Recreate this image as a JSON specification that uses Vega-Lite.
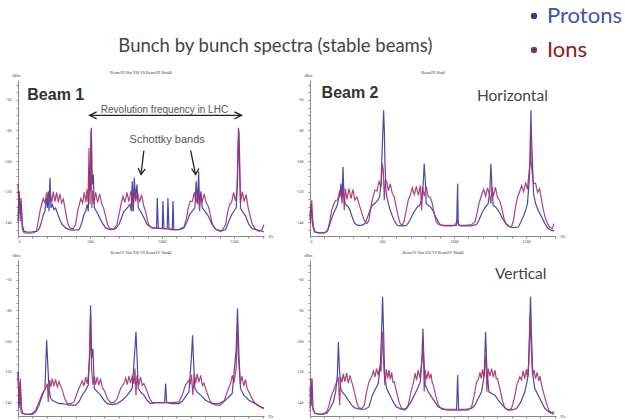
{
"$schema": "https://vega.github.io/schema/vega-lite/v6.json",
"padding": {"left": 2, "top": 5, "right": 0, "bottom": 0},
"bounds": "flush",
"title": {"text": "Bunch by bunch spectra (stable beams)", "anchor": "middle", "dx": -37, "font": "Lato", "fontSize": 18.5, "fontWeight": "normal", "color": "#444", "offset": -50},
"data": {"values": [
{"p":"1H","s":"Protons","f":0,"d":-139.3},{"p":"1H","s":"Protons","f":7,"d":-119.7},{"p":"1H","s":"Protons","f":14,"d":-135.0},{"p":"1H","s":"Protons","f":21,"d":-124.1},{"p":"1H","s":"Protons","f":30,"d":-141.5},{"p":"1H","s":"Protons","f":42,"d":-145.9},{"p":"1H","s":"Protons","f":65,"d":-146.5},{"p":"1H","s":"Protons","f":99,"d":-146.3},{"p":"1H","s":"Protons","f":134,"d":-145.9},{"p":"1H","s":"Protons","f":150,"d":-143.7},{"p":"1H","s":"Protons","f":164,"d":-139.3},{"p":"1H","s":"Protons","f":176,"d":-135.0},{"p":"1H","s":"Protons","f":187,"d":-132.8},{"p":"1H","s":"Protons","f":197,"d":-124.1},{"p":"1H","s":"Protons","f":204,"d":-130.6},{"p":"1H","s":"Protons","f":210,"d":-119.7},{"p":"1H","s":"Protons","f":215,"d":-132.8},{"p":"1H","s":"Protons","f":222,"d":-111.0},{"p":"1H","s":"Protons","f":229,"d":-130.6},{"p":"1H","s":"Protons","f":238,"d":-128.4},{"p":"1H","s":"Protons","f":250,"d":-131.7},{"p":"1H","s":"Protons","f":261,"d":-130.6},{"p":"1H","s":"Protons","f":273,"d":-133.9},{"p":"1H","s":"Protons","f":285,"d":-137.1},{"p":"1H","s":"Protons","f":296,"d":-139.3},{"p":"1H","s":"Protons","f":308,"d":-141.5},{"p":"1H","s":"Protons","f":331,"d":-143.7},{"p":"1H","s":"Protons","f":354,"d":-144.8},{"p":"1H","s":"Protons","f":389,"d":-145.2},{"p":"1H","s":"Protons","f":423,"d":-144.8},{"p":"1H","s":"Protons","f":435,"d":-142.6},{"p":"1H","s":"Protons","f":446,"d":-139.3},{"p":"1H","s":"Protons","f":458,"d":-135.0},{"p":"1H","s":"Protons","f":470,"d":-132.8},{"p":"1H","s":"Protons","f":481,"d":-128.4},{"p":"1H","s":"Protons","f":488,"d":-132.8},{"p":"1H","s":"Protons","f":495,"d":-104.4},{"p":"1H","s":"Protons","f":502,"d":-119.7},{"p":"1H","s":"Protons","f":509,"d":-78.3},{"p":"1H","s":"Protons","f":516,"d":-115.3},{"p":"1H","s":"Protons","f":523,"d":-108.8},{"p":"1H","s":"Protons","f":530,"d":-130.6},{"p":"1H","s":"Protons","f":544,"d":-132.8},{"p":"1H","s":"Protons","f":562,"d":-136.0},{"p":"1H","s":"Protons","f":585,"d":-140.4},{"p":"1H","s":"Protons","f":608,"d":-143.7},{"p":"1H","s":"Protons","f":643,"d":-144.8},{"p":"1H","s":"Protons","f":678,"d":-144.3},{"p":"1H","s":"Protons","f":701,"d":-141.5},{"p":"1H","s":"Protons","f":719,"d":-137.1},{"p":"1H","s":"Protons","f":736,"d":-132.8},{"p":"1H","s":"Protons","f":759,"d":-130.6},{"p":"1H","s":"Protons","f":777,"d":-128.4},{"p":"1H","s":"Protons","f":786,"d":-132.8},{"p":"1H","s":"Protons","f":793,"d":-113.2},{"p":"1H","s":"Protons","f":800,"d":-132.8},{"p":"1H","s":"Protons","f":807,"d":-111.0},{"p":"1H","s":"Protons","f":817,"d":-124.1},{"p":"1H","s":"Protons","f":826,"d":-115.3},{"p":"1H","s":"Protons","f":835,"d":-130.6},{"p":"1H","s":"Protons","f":851,"d":-132.8},{"p":"1H","s":"Protons","f":874,"d":-137.1},{"p":"1H","s":"Protons","f":897,"d":-141.5},{"p":"1H","s":"Protons","f":932,"d":-143.7},{"p":"1H","s":"Protons","f":962,"d":-143.7},{"p":"1H","s":"Protons","f":967,"d":-124.1},{"p":"1H","s":"Protons","f":974,"d":-143.7},{"p":"1H","s":"Protons","f":1002,"d":-144.1},{"p":"1H","s":"Protons","f":1006,"d":-126.2},{"p":"1H","s":"Protons","f":1013,"d":-144.1},{"p":"1H","s":"Protons","f":1036,"d":-144.1},{"p":"1H","s":"Protons","f":1041,"d":-124.1},{"p":"1H","s":"Protons","f":1048,"d":-144.1},{"p":"1H","s":"Protons","f":1071,"d":-144.8},{"p":"1H","s":"Protons","f":1076,"d":-126.2},{"p":"1H","s":"Protons","f":1082,"d":-144.8},{"p":"1H","s":"Protons","f":1117,"d":-144.8},{"p":"1H","s":"Protons","f":1152,"d":-143.7},{"p":"1H","s":"Protons","f":1175,"d":-139.3},{"p":"1H","s":"Protons","f":1191,"d":-135.0},{"p":"1H","s":"Protons","f":1210,"d":-132.8},{"p":"1H","s":"Protons","f":1228,"d":-130.6},{"p":"1H","s":"Protons","f":1237,"d":-113.2},{"p":"1H","s":"Protons","f":1247,"d":-128.4},{"p":"1H","s":"Protons","f":1254,"d":-106.6},{"p":"1H","s":"Protons","f":1261,"d":-128.4},{"p":"1H","s":"Protons","f":1270,"d":-119.7},{"p":"1H","s":"Protons","f":1279,"d":-130.6},{"p":"1H","s":"Protons","f":1298,"d":-132.8},{"p":"1H","s":"Protons","f":1321,"d":-136.0},{"p":"1H","s":"Protons","f":1348,"d":-141.5},{"p":"1H","s":"Protons","f":1376,"d":-144.8},{"p":"1H","s":"Protons","f":1406,"d":-145.9},{"p":"1H","s":"Protons","f":1441,"d":-144.8},{"p":"1H","s":"Protons","f":1464,"d":-139.3},{"p":"1H","s":"Protons","f":1483,"d":-135.0},{"p":"1H","s":"Protons","f":1499,"d":-132.8},{"p":"1H","s":"Protons","f":1515,"d":-130.6},{"p":"1H","s":"Protons","f":1524,"d":-113.2},{"p":"1H","s":"Protons","f":1531,"d":-78.3},{"p":"1H","s":"Protons","f":1538,"d":-102.3},{"p":"1H","s":"Protons","f":1545,"d":-130.6},{"p":"1H","s":"Protons","f":1557,"d":-132.8},{"p":"1H","s":"Protons","f":1580,"d":-136.0},{"p":"1H","s":"Protons","f":1603,"d":-141.5},{"p":"1H","s":"Protons","f":1626,"d":-144.1},{"p":"1H","s":"Protons","f":1661,"d":-145.2},{"p":"1H","s":"Protons","f":1695,"d":-145.9},{"p":"1H","s":"Protons","f":1707,"d":-146.3},
{"p":"1H","s":"Ions","f":0,"d":-115.3},{"p":"1H","s":"Ions","f":5,"d":-128.4},{"p":"1H","s":"Ions","f":9,"d":-119.7},{"p":"1H","s":"Ions","f":16,"d":-139.3},{"p":"1H","s":"Ions","f":23,"d":-130.6},{"p":"1H","s":"Ions","f":30,"d":-144.8},{"p":"1H","s":"Ions","f":42,"d":-146.9},{"p":"1H","s":"Ions","f":76,"d":-147.2},{"p":"1H","s":"Ions","f":111,"d":-146.9},{"p":"1H","s":"Ions","f":127,"d":-145.9},{"p":"1H","s":"Ions","f":141,"d":-139.3},{"p":"1H","s":"Ions","f":153,"d":-132.8},{"p":"1H","s":"Ions","f":164,"d":-128.4},{"p":"1H","s":"Ions","f":176,"d":-124.5},{"p":"1H","s":"Ions","f":187,"d":-127.5},{"p":"1H","s":"Ions","f":199,"d":-120.5},{"p":"1H","s":"Ions","f":210,"d":-126.5},{"p":"1H","s":"Ions","f":222,"d":-119.5},{"p":"1H","s":"Ions","f":234,"d":-127.0},{"p":"1H","s":"Ions","f":245,"d":-120.0},{"p":"1H","s":"Ions","f":257,"d":-126.5},{"p":"1H","s":"Ions","f":268,"d":-120.5},{"p":"1H","s":"Ions","f":280,"d":-127.0},{"p":"1H","s":"Ions","f":291,"d":-121.5},{"p":"1H","s":"Ions","f":303,"d":-127.5},{"p":"1H","s":"Ions","f":315,"d":-125.0},{"p":"1H","s":"Ions","f":326,"d":-130.6},{"p":"1H","s":"Ions","f":338,"d":-137.1},{"p":"1H","s":"Ions","f":349,"d":-141.5},{"p":"1H","s":"Ions","f":361,"d":-143.7},{"p":"1H","s":"Ions","f":382,"d":-144.3},{"p":"1H","s":"Ions","f":400,"d":-141.5},{"p":"1H","s":"Ions","f":414,"d":-132.8},{"p":"1H","s":"Ions","f":426,"d":-128.4},{"p":"1H","s":"Ions","f":437,"d":-124.5},{"p":"1H","s":"Ions","f":449,"d":-127.5},{"p":"1H","s":"Ions","f":460,"d":-120.5},{"p":"1H","s":"Ions","f":472,"d":-127.0},{"p":"1H","s":"Ions","f":479,"d":-118.5},{"p":"1H","s":"Ions","f":486,"d":-126.5},{"p":"1H","s":"Ions","f":493,"d":-91.4},{"p":"1H","s":"Ions","f":500,"d":-128.4},{"p":"1H","s":"Ions","f":507,"d":-80.5},{"p":"1H","s":"Ions","f":513,"d":-130.6},{"p":"1H","s":"Ions","f":520,"d":-119.5},{"p":"1H","s":"Ions","f":527,"d":-128.0},{"p":"1H","s":"Ions","f":539,"d":-120.5},{"p":"1H","s":"Ions","f":553,"d":-127.0},{"p":"1H","s":"Ions","f":567,"d":-121.5},{"p":"1H","s":"Ions","f":581,"d":-128.0},{"p":"1H","s":"Ions","f":594,"d":-130.6},{"p":"1H","s":"Ions","f":608,"d":-136.0},{"p":"1H","s":"Ions","f":622,"d":-141.5},{"p":"1H","s":"Ions","f":638,"d":-144.1},{"p":"1H","s":"Ions","f":666,"d":-144.5},{"p":"1H","s":"Ions","f":687,"d":-141.5},{"p":"1H","s":"Ions","f":701,"d":-135.0},{"p":"1H","s":"Ions","f":715,"d":-128.4},{"p":"1H","s":"Ions","f":729,"d":-123.0},{"p":"1H","s":"Ions","f":742,"d":-127.0},{"p":"1H","s":"Ions","f":756,"d":-120.5},{"p":"1H","s":"Ions","f":770,"d":-126.5},{"p":"1H","s":"Ions","f":784,"d":-119.5},{"p":"1H","s":"Ions","f":793,"d":-125.0},{"p":"1H","s":"Ions","f":800,"d":-132.8},{"p":"1H","s":"Ions","f":807,"d":-118.0},{"p":"1H","s":"Ions","f":817,"d":-126.5},{"p":"1H","s":"Ions","f":830,"d":-120.5},{"p":"1H","s":"Ions","f":844,"d":-127.0},{"p":"1H","s":"Ions","f":858,"d":-122.0},{"p":"1H","s":"Ions","f":872,"d":-129.0},{"p":"1H","s":"Ions","f":886,"d":-132.8},{"p":"1H","s":"Ions","f":900,"d":-139.3},{"p":"1H","s":"Ions","f":914,"d":-142.6},{"p":"1H","s":"Ions","f":932,"d":-143.7},{"p":"1H","s":"Ions","f":978,"d":-144.1},{"p":"1H","s":"Ions","f":1025,"d":-144.3},{"p":"1H","s":"Ions","f":1071,"d":-144.8},{"p":"1H","s":"Ions","f":1117,"d":-144.8},{"p":"1H","s":"Ions","f":1152,"d":-143.2},{"p":"1H","s":"Ions","f":1168,"d":-138.2},{"p":"1H","s":"Ions","f":1182,"d":-130.6},{"p":"1H","s":"Ions","f":1196,"d":-126.2},{"p":"1H","s":"Ions","f":1210,"d":-126.5},{"p":"1H","s":"Ions","f":1224,"d":-120.5},{"p":"1H","s":"Ions","f":1237,"d":-127.0},{"p":"1H","s":"Ions","f":1251,"d":-119.5},{"p":"1H","s":"Ions","f":1261,"d":-132.8},{"p":"1H","s":"Ions","f":1268,"d":-121.0},{"p":"1H","s":"Ions","f":1279,"d":-127.0},{"p":"1H","s":"Ions","f":1293,"d":-121.5},{"p":"1H","s":"Ions","f":1307,"d":-127.5},{"p":"1H","s":"Ions","f":1321,"d":-129.5},{"p":"1H","s":"Ions","f":1335,"d":-135.0},{"p":"1H","s":"Ions","f":1348,"d":-140.4},{"p":"1H","s":"Ions","f":1362,"d":-143.7},{"p":"1H","s":"Ions","f":1383,"d":-145.2},{"p":"1H","s":"Ions","f":1418,"d":-145.4},{"p":"1H","s":"Ions","f":1441,"d":-141.5},{"p":"1H","s":"Ions","f":1455,"d":-133.9},{"p":"1H","s":"Ions","f":1469,"d":-128.4},{"p":"1H","s":"Ions","f":1483,"d":-127.0},{"p":"1H","s":"Ions","f":1497,"d":-120.5},{"p":"1H","s":"Ions","f":1510,"d":-126.0},{"p":"1H","s":"Ions","f":1520,"d":-119.5},{"p":"1H","s":"Ions","f":1529,"d":-87.0},{"p":"1H","s":"Ions","f":1534,"d":-80.5},{"p":"1H","s":"Ions","f":1538,"d":-93.6},{"p":"1H","s":"Ions","f":1545,"d":-127.5},{"p":"1H","s":"Ions","f":1557,"d":-120.0},{"p":"1H","s":"Ions","f":1571,"d":-126.5},{"p":"1H","s":"Ions","f":1584,"d":-122.0},{"p":"1H","s":"Ions","f":1598,"d":-130.6},{"p":"1H","s":"Ions","f":1612,"d":-136.0},{"p":"1H","s":"Ions","f":1626,"d":-141.1},{"p":"1H","s":"Ions","f":1645,"d":-144.1},{"p":"1H","s":"Ions","f":1672,"d":-145.9},{"p":"1H","s":"Ions","f":1695,"d":-144.8},{"p":"1H","s":"Ions","f":1707,"d":-141.5},
{"p":"2H","s":"Protons","f":0,"d":-138.7},{"p":"2H","s":"Protons","f":7,"d":-127.8},{"p":"2H","s":"Protons","f":14,"d":-136.5},{"p":"2H","s":"Protons","f":21,"d":-143.1},{"p":"2H","s":"Protons","f":30,"d":-146.3},{"p":"2H","s":"Protons","f":58,"d":-147.0},{"p":"2H","s":"Protons","f":93,"d":-147.0},{"p":"2H","s":"Protons","f":116,"d":-146.3},{"p":"2H","s":"Protons","f":127,"d":-144.2},{"p":"2H","s":"Protons","f":139,"d":-140.9},{"p":"2H","s":"Protons","f":150,"d":-137.6},{"p":"2H","s":"Protons","f":162,"d":-134.4},{"p":"2H","s":"Protons","f":173,"d":-132.2},{"p":"2H","s":"Protons","f":185,"d":-130.0},{"p":"2H","s":"Protons","f":197,"d":-125.6},{"p":"2H","s":"Protons","f":208,"d":-121.3},{"p":"2H","s":"Protons","f":215,"d":-114.7},{"p":"2H","s":"Protons","f":222,"d":-127.8},{"p":"2H","s":"Protons","f":229,"d":-103.8},{"p":"2H","s":"Protons","f":236,"d":-123.5},{"p":"2H","s":"Protons","f":243,"d":-127.8},{"p":"2H","s":"Protons","f":254,"d":-128.9},{"p":"2H","s":"Protons","f":266,"d":-130.0},{"p":"2H","s":"Protons","f":278,"d":-132.2},{"p":"2H","s":"Protons","f":289,"d":-135.4},{"p":"2H","s":"Protons","f":301,"d":-138.7},{"p":"2H","s":"Protons","f":312,"d":-140.9},{"p":"2H","s":"Protons","f":331,"d":-142.0},{"p":"2H","s":"Protons","f":359,"d":-142.0},{"p":"2H","s":"Protons","f":382,"d":-140.9},{"p":"2H","s":"Protons","f":400,"d":-136.5},{"p":"2H","s":"Protons","f":416,"d":-132.2},{"p":"2H","s":"Protons","f":433,"d":-128.9},{"p":"2H","s":"Protons","f":451,"d":-127.8},{"p":"2H","s":"Protons","f":470,"d":-125.6},{"p":"2H","s":"Protons","f":483,"d":-123.5},{"p":"2H","s":"Protons","f":493,"d":-114.7},{"p":"2H","s":"Protons","f":500,"d":-95.1},{"p":"2H","s":"Protons","f":507,"d":-77.7},{"p":"2H","s":"Protons","f":511,"d":-66.8},{"p":"2H","s":"Protons","f":516,"d":-79.9},{"p":"2H","s":"Protons","f":520,"d":-99.5},{"p":"2H","s":"Protons","f":527,"d":-119.1},{"p":"2H","s":"Protons","f":534,"d":-123.5},{"p":"2H","s":"Protons","f":544,"d":-127.8},{"p":"2H","s":"Protons","f":557,"d":-132.2},{"p":"2H","s":"Protons","f":574,"d":-136.5},{"p":"2H","s":"Protons","f":590,"d":-139.8},{"p":"2H","s":"Protons","f":606,"d":-142.0},{"p":"2H","s":"Protons","f":625,"d":-142.4},{"p":"2H","s":"Protons","f":648,"d":-142.4},{"p":"2H","s":"Protons","f":671,"d":-142.0},{"p":"2H","s":"Protons","f":694,"d":-138.7},{"p":"2H","s":"Protons","f":710,"d":-135.4},{"p":"2H","s":"Protons","f":729,"d":-132.2},{"p":"2H","s":"Protons","f":745,"d":-130.0},{"p":"2H","s":"Protons","f":761,"d":-128.9},{"p":"2H","s":"Protons","f":775,"d":-125.6},{"p":"2H","s":"Protons","f":786,"d":-114.7},{"p":"2H","s":"Protons","f":793,"d":-101.7},{"p":"2H","s":"Protons","f":800,"d":-112.6},{"p":"2H","s":"Protons","f":807,"d":-127.8},{"p":"2H","s":"Protons","f":821,"d":-128.9},{"p":"2H","s":"Protons","f":837,"d":-130.0},{"p":"2H","s":"Protons","f":853,"d":-132.2},{"p":"2H","s":"Protons","f":872,"d":-136.5},{"p":"2H","s":"Protons","f":891,"d":-139.8},{"p":"2H","s":"Protons","f":909,"d":-142.0},{"p":"2H","s":"Protons","f":937,"d":-142.4},{"p":"2H","s":"Protons","f":983,"d":-142.4},{"p":"2H","s":"Protons","f":1018,"d":-142.0},{"p":"2H","s":"Protons","f":1025,"d":-114.7},{"p":"2H","s":"Protons","f":1029,"d":-140.9},{"p":"2H","s":"Protons","f":1041,"d":-142.4},{"p":"2H","s":"Protons","f":1076,"d":-142.4},{"p":"2H","s":"Protons","f":1122,"d":-142.4},{"p":"2H","s":"Protons","f":1157,"d":-141.3},{"p":"2H","s":"Protons","f":1173,"d":-138.7},{"p":"2H","s":"Protons","f":1187,"d":-135.4},{"p":"2H","s":"Protons","f":1203,"d":-132.2},{"p":"2H","s":"Protons","f":1219,"d":-130.0},{"p":"2H","s":"Protons","f":1237,"d":-127.8},{"p":"2H","s":"Protons","f":1249,"d":-119.1},{"p":"2H","s":"Protons","f":1256,"d":-101.7},{"p":"2H","s":"Protons","f":1263,"d":-116.9},{"p":"2H","s":"Protons","f":1272,"d":-128.9},{"p":"2H","s":"Protons","f":1288,"d":-130.0},{"p":"2H","s":"Protons","f":1307,"d":-132.2},{"p":"2H","s":"Protons","f":1325,"d":-135.4},{"p":"2H","s":"Protons","f":1344,"d":-138.7},{"p":"2H","s":"Protons","f":1362,"d":-140.9},{"p":"2H","s":"Protons","f":1388,"d":-143.1},{"p":"2H","s":"Protons","f":1418,"d":-143.5},{"p":"2H","s":"Protons","f":1446,"d":-143.1},{"p":"2H","s":"Protons","f":1464,"d":-139.8},{"p":"2H","s":"Protons","f":1480,"d":-136.5},{"p":"2H","s":"Protons","f":1497,"d":-132.2},{"p":"2H","s":"Protons","f":1510,"d":-127.8},{"p":"2H","s":"Protons","f":1522,"d":-112.6},{"p":"2H","s":"Protons","f":1529,"d":-97.3},{"p":"2H","s":"Protons","f":1534,"d":-66.8},{"p":"2H","s":"Protons","f":1538,"d":-84.2},{"p":"2H","s":"Protons","f":1545,"d":-101.7},{"p":"2H","s":"Protons","f":1552,"d":-121.3},{"p":"2H","s":"Protons","f":1566,"d":-127.8},{"p":"2H","s":"Protons","f":1584,"d":-132.2},{"p":"2H","s":"Protons","f":1608,"d":-136.5},{"p":"2H","s":"Protons","f":1631,"d":-140.9},{"p":"2H","s":"Protons","f":1654,"d":-144.2},{"p":"2H","s":"Protons","f":1677,"d":-145.3},{"p":"2H","s":"Protons","f":1695,"d":-145.7},
{"p":"2H","s":"Ions","f":0,"d":-132.2},{"p":"2H","s":"Ions","f":5,"d":-140.9},{"p":"2H","s":"Ions","f":12,"d":-125.6},{"p":"2H","s":"Ions","f":19,"d":-138.7},{"p":"2H","s":"Ions","f":25,"d":-143.1},{"p":"2H","s":"Ions","f":35,"d":-146.3},{"p":"2H","s":"Ions","f":58,"d":-147.0},{"p":"2H","s":"Ions","f":104,"d":-146.8},{"p":"2H","s":"Ions","f":123,"d":-145.3},{"p":"2H","s":"Ions","f":139,"d":-138.7},{"p":"2H","s":"Ions","f":150,"d":-132.2},{"p":"2H","s":"Ions","f":162,"d":-128.9},{"p":"2H","s":"Ions","f":178,"d":-125.6},{"p":"2H","s":"Ions","f":192,"d":-125.5},{"p":"2H","s":"Ions","f":206,"d":-119.5},{"p":"2H","s":"Ions","f":220,"d":-124.5},{"p":"2H","s":"Ions","f":231,"d":-117.5},{"p":"2H","s":"Ions","f":238,"d":-132.2},{"p":"2H","s":"Ions","f":245,"d":-118.0},{"p":"2H","s":"Ions","f":257,"d":-125.0},{"p":"2H","s":"Ions","f":271,"d":-118.0},{"p":"2H","s":"Ions","f":285,"d":-124.5},{"p":"2H","s":"Ions","f":298,"d":-118.5},{"p":"2H","s":"Ions","f":312,"d":-125.5},{"p":"2H","s":"Ions","f":326,"d":-123.5},{"p":"2H","s":"Ions","f":340,"d":-127.8},{"p":"2H","s":"Ions","f":354,"d":-132.2},{"p":"2H","s":"Ions","f":368,"d":-136.5},{"p":"2H","s":"Ions","f":382,"d":-139.8},{"p":"2H","s":"Ions","f":396,"d":-140.9},{"p":"2H","s":"Ions","f":409,"d":-138.7},{"p":"2H","s":"Ions","f":423,"d":-130.0},{"p":"2H","s":"Ions","f":437,"d":-123.5},{"p":"2H","s":"Ions","f":451,"d":-119.1},{"p":"2H","s":"Ions","f":465,"d":-119.5},{"p":"2H","s":"Ions","f":479,"d":-113.5},{"p":"2H","s":"Ions","f":493,"d":-117.0},{"p":"2H","s":"Ions","f":502,"d":-101.7},{"p":"2H","s":"Ions","f":509,"d":-106.0},{"p":"2H","s":"Ions","f":516,"d":-125.6},{"p":"2H","s":"Ions","f":523,"d":-112.6},{"p":"2H","s":"Ions","f":532,"d":-113.0},{"p":"2H","s":"Ions","f":544,"d":-119.5},{"p":"2H","s":"Ions","f":557,"d":-115.0},{"p":"2H","s":"Ions","f":571,"d":-121.0},{"p":"2H","s":"Ions","f":585,"d":-123.5},{"p":"2H","s":"Ions","f":599,"d":-130.0},{"p":"2H","s":"Ions","f":613,"d":-136.5},{"p":"2H","s":"Ions","f":627,"d":-140.9},{"p":"2H","s":"Ions","f":641,"d":-142.0},{"p":"2H","s":"Ions","f":655,"d":-138.7},{"p":"2H","s":"Ions","f":668,"d":-132.2},{"p":"2H","s":"Ions","f":682,"d":-125.6},{"p":"2H","s":"Ions","f":696,"d":-122.4},{"p":"2H","s":"Ions","f":710,"d":-117.5},{"p":"2H","s":"Ions","f":724,"d":-122.0},{"p":"2H","s":"Ions","f":738,"d":-116.5},{"p":"2H","s":"Ions","f":752,"d":-122.5},{"p":"2H","s":"Ions","f":766,"d":-116.0},{"p":"2H","s":"Ions","f":775,"d":-132.2},{"p":"2H","s":"Ions","f":782,"d":-117.0},{"p":"2H","s":"Ions","f":793,"d":-123.0},{"p":"2H","s":"Ions","f":807,"d":-116.5},{"p":"2H","s":"Ions","f":821,"d":-123.5},{"p":"2H","s":"Ions","f":835,"d":-123.5},{"p":"2H","s":"Ions","f":849,"d":-127.8},{"p":"2H","s":"Ions","f":863,"d":-134.4},{"p":"2H","s":"Ions","f":877,"d":-139.8},{"p":"2H","s":"Ions","f":891,"d":-141.5},{"p":"2H","s":"Ions","f":937,"d":-142.0},{"p":"2H","s":"Ions","f":1006,"d":-142.0},{"p":"2H","s":"Ions","f":1025,"d":-138.7},{"p":"2H","s":"Ions","f":1032,"d":-141.8},{"p":"2H","s":"Ions","f":1076,"d":-142.0},{"p":"2H","s":"Ions","f":1122,"d":-141.5},{"p":"2H","s":"Ions","f":1145,"d":-139.8},{"p":"2H","s":"Ions","f":1159,"d":-134.4},{"p":"2H","s":"Ions","f":1173,"d":-127.8},{"p":"2H","s":"Ions","f":1187,"d":-123.5},{"p":"2H","s":"Ions","f":1205,"d":-118.5},{"p":"2H","s":"Ions","f":1219,"d":-123.0},{"p":"2H","s":"Ions","f":1233,"d":-117.5},{"p":"2H","s":"Ions","f":1247,"d":-122.5},{"p":"2H","s":"Ions","f":1256,"d":-127.8},{"p":"2H","s":"Ions","f":1263,"d":-117.0},{"p":"2H","s":"Ions","f":1274,"d":-123.0},{"p":"2H","s":"Ions","f":1288,"d":-117.0},{"p":"2H","s":"Ions","f":1302,"d":-124.0},{"p":"2H","s":"Ions","f":1316,"d":-125.6},{"p":"2H","s":"Ions","f":1330,"d":-130.0},{"p":"2H","s":"Ions","f":1344,"d":-136.5},{"p":"2H","s":"Ions","f":1358,"d":-140.9},{"p":"2H","s":"Ions","f":1376,"d":-142.6},{"p":"2H","s":"Ions","f":1399,"d":-143.1},{"p":"2H","s":"Ions","f":1413,"d":-138.7},{"p":"2H","s":"Ions","f":1427,"d":-130.0},{"p":"2H","s":"Ions","f":1441,"d":-123.5},{"p":"2H","s":"Ions","f":1455,"d":-120.2},{"p":"2H","s":"Ions","f":1469,"d":-116.0},{"p":"2H","s":"Ions","f":1483,"d":-120.0},{"p":"2H","s":"Ions","f":1497,"d":-114.0},{"p":"2H","s":"Ions","f":1510,"d":-118.5},{"p":"2H","s":"Ions","f":1520,"d":-108.2},{"p":"2H","s":"Ions","f":1527,"d":-101.7},{"p":"2H","s":"Ions","f":1531,"d":-79.9},{"p":"2H","s":"Ions","f":1536,"d":-101.7},{"p":"2H","s":"Ions","f":1543,"d":-108.2},{"p":"2H","s":"Ions","f":1552,"d":-114.7},{"p":"2H","s":"Ions","f":1566,"d":-114.5},{"p":"2H","s":"Ions","f":1580,"d":-120.5},{"p":"2H","s":"Ions","f":1594,"d":-118.0},{"p":"2H","s":"Ions","f":1608,"d":-125.6},{"p":"2H","s":"Ions","f":1621,"d":-132.2},{"p":"2H","s":"Ions","f":1635,"d":-137.6},{"p":"2H","s":"Ions","f":1649,"d":-140.9},{"p":"2H","s":"Ions","f":1665,"d":-143.1},{"p":"2H","s":"Ions","f":1682,"d":-144.2},{"p":"2H","s":"Ions","f":1695,"d":-140.9},
{"p":"1V","s":"Protons","f":0,"d":-120.2},{"p":"1V","s":"Protons","f":7,"d":-144.1},{"p":"1V","s":"Protons","f":14,"d":-126.7},{"p":"1V","s":"Protons","f":21,"d":-146.3},{"p":"1V","s":"Protons","f":30,"d":-147.4},{"p":"1V","s":"Protons","f":53,"d":-147.9},{"p":"1V","s":"Protons","f":99,"d":-147.9},{"p":"1V","s":"Protons","f":123,"d":-146.3},{"p":"1V","s":"Protons","f":146,"d":-141.9},{"p":"1V","s":"Protons","f":169,"d":-135.4},{"p":"1V","s":"Protons","f":187,"d":-131.0},{"p":"1V","s":"Protons","f":199,"d":-99.5},{"p":"1V","s":"Protons","f":206,"d":-113.6},{"p":"1V","s":"Protons","f":215,"d":-131.0},{"p":"1V","s":"Protons","f":227,"d":-137.6},{"p":"1V","s":"Protons","f":238,"d":-138.7},{"p":"1V","s":"Protons","f":261,"d":-139.8},{"p":"1V","s":"Protons","f":285,"d":-140.9},{"p":"1V","s":"Protons","f":308,"d":-140.9},{"p":"1V","s":"Protons","f":331,"d":-141.3},{"p":"1V","s":"Protons","f":354,"d":-141.9},{"p":"1V","s":"Protons","f":400,"d":-141.9},{"p":"1V","s":"Protons","f":423,"d":-139.8},{"p":"1V","s":"Protons","f":446,"d":-135.4},{"p":"1V","s":"Protons","f":470,"d":-132.1},{"p":"1V","s":"Protons","f":488,"d":-128.8},{"p":"1V","s":"Protons","f":497,"d":-107.1},{"p":"1V","s":"Protons","f":504,"d":-76.6},{"p":"1V","s":"Protons","f":511,"d":-111.4},{"p":"1V","s":"Protons","f":520,"d":-104.9},{"p":"1V","s":"Protons","f":530,"d":-131.0},{"p":"1V","s":"Protons","f":551,"d":-133.2},{"p":"1V","s":"Protons","f":574,"d":-135.4},{"p":"1V","s":"Protons","f":597,"d":-138.7},{"p":"1V","s":"Protons","f":620,"d":-140.9},{"p":"1V","s":"Protons","f":655,"d":-141.5},{"p":"1V","s":"Protons","f":689,"d":-140.9},{"p":"1V","s":"Protons","f":724,"d":-138.7},{"p":"1V","s":"Protons","f":759,"d":-135.4},{"p":"1V","s":"Protons","f":793,"d":-131.0},{"p":"1V","s":"Protons","f":812,"d":-104.9},{"p":"1V","s":"Protons","f":819,"d":-94.0},{"p":"1V","s":"Protons","f":826,"d":-109.3},{"p":"1V","s":"Protons","f":835,"d":-131.0},{"p":"1V","s":"Protons","f":851,"d":-133.2},{"p":"1V","s":"Protons","f":874,"d":-135.4},{"p":"1V","s":"Protons","f":897,"d":-138.7},{"p":"1V","s":"Protons","f":921,"d":-140.9},{"p":"1V","s":"Protons","f":955,"d":-140.2},{"p":"1V","s":"Protons","f":990,"d":-140.2},{"p":"1V","s":"Protons","f":1018,"d":-140.2},{"p":"1V","s":"Protons","f":1025,"d":-127.8},{"p":"1V","s":"Protons","f":1032,"d":-140.2},{"p":"1V","s":"Protons","f":1071,"d":-140.9},{"p":"1V","s":"Protons","f":1117,"d":-140.9},{"p":"1V","s":"Protons","f":1140,"d":-139.4},{"p":"1V","s":"Protons","f":1163,"d":-136.5},{"p":"1V","s":"Protons","f":1187,"d":-133.2},{"p":"1V","s":"Protons","f":1205,"d":-109.3},{"p":"1V","s":"Protons","f":1212,"d":-96.2},{"p":"1V","s":"Protons","f":1219,"d":-113.6},{"p":"1V","s":"Protons","f":1228,"d":-131.0},{"p":"1V","s":"Protons","f":1244,"d":-133.2},{"p":"1V","s":"Protons","f":1268,"d":-135.4},{"p":"1V","s":"Protons","f":1302,"d":-138.7},{"p":"1V","s":"Protons","f":1348,"d":-140.9},{"p":"1V","s":"Protons","f":1395,"d":-140.9},{"p":"1V","s":"Protons","f":1441,"d":-138.7},{"p":"1V","s":"Protons","f":1487,"d":-134.3},{"p":"1V","s":"Protons","f":1515,"d":-104.9},{"p":"1V","s":"Protons","f":1524,"d":-78.8},{"p":"1V","s":"Protons","f":1534,"d":-109.3},{"p":"1V","s":"Protons","f":1545,"d":-131.0},{"p":"1V","s":"Protons","f":1568,"d":-135.4},{"p":"1V","s":"Protons","f":1603,"d":-138.7},{"p":"1V","s":"Protons","f":1649,"d":-140.9},{"p":"1V","s":"Protons","f":1695,"d":-143.7},{"p":"1V","s":"Protons","f":1707,"d":-144.1},
{"p":"1V","s":"Ions","f":0,"d":-120.2},{"p":"1V","s":"Ions","f":9,"d":-141.9},{"p":"1V","s":"Ions","f":16,"d":-124.5},{"p":"1V","s":"Ions","f":25,"d":-144.1},{"p":"1V","s":"Ions","f":35,"d":-147.4},{"p":"1V","s":"Ions","f":65,"d":-148.1},{"p":"1V","s":"Ions","f":99,"d":-147.4},{"p":"1V","s":"Ions","f":123,"d":-145.2},{"p":"1V","s":"Ions","f":146,"d":-139.8},{"p":"1V","s":"Ions","f":169,"d":-134.3},{"p":"1V","s":"Ions","f":192,"d":-131.0},{"p":"1V","s":"Ions","f":204,"d":-127.8},{"p":"1V","s":"Ions","f":210,"d":-139.8},{"p":"1V","s":"Ions","f":220,"d":-125.5},{"p":"1V","s":"Ions","f":229,"d":-130.0},{"p":"1V","s":"Ions","f":238,"d":-124.5},{"p":"1V","s":"Ions","f":249,"d":-129.5},{"p":"1V","s":"Ions","f":261,"d":-125.0},{"p":"1V","s":"Ions","f":273,"d":-130.0},{"p":"1V","s":"Ions","f":285,"d":-126.5},{"p":"1V","s":"Ions","f":308,"d":-132.1},{"p":"1V","s":"Ions","f":324,"d":-137.6},{"p":"1V","s":"Ions","f":342,"d":-140.9},{"p":"1V","s":"Ions","f":365,"d":-140.9},{"p":"1V","s":"Ions","f":389,"d":-139.8},{"p":"1V","s":"Ions","f":405,"d":-135.4},{"p":"1V","s":"Ions","f":423,"d":-131.0},{"p":"1V","s":"Ions","f":446,"d":-126.0},{"p":"1V","s":"Ions","f":458,"d":-129.5},{"p":"1V","s":"Ions","f":470,"d":-123.5},{"p":"1V","s":"Ions","f":480,"d":-128.0},{"p":"1V","s":"Ions","f":488,"d":-122.5},{"p":"1V","s":"Ions","f":497,"d":-111.4},{"p":"1V","s":"Ions","f":504,"d":-83.1},{"p":"1V","s":"Ions","f":511,"d":-118.0},{"p":"1V","s":"Ions","f":520,"d":-128.5},{"p":"1V","s":"Ions","f":530,"d":-123.0},{"p":"1V","s":"Ions","f":539,"d":-128.5},{"p":"1V","s":"Ions","f":550,"d":-123.5},{"p":"1V","s":"Ions","f":562,"d":-129.0},{"p":"1V","s":"Ions","f":573,"d":-124.5},{"p":"1V","s":"Ions","f":585,"d":-130.0},{"p":"1V","s":"Ions","f":604,"d":-133.2},{"p":"1V","s":"Ions","f":620,"d":-137.6},{"p":"1V","s":"Ions","f":643,"d":-140.2},{"p":"1V","s":"Ions","f":666,"d":-140.2},{"p":"1V","s":"Ions","f":689,"d":-137.6},{"p":"1V","s":"Ions","f":712,"d":-131.0},{"p":"1V","s":"Ions","f":736,"d":-127.8},{"p":"1V","s":"Ions","f":748,"d":-124.0},{"p":"1V","s":"Ions","f":759,"d":-128.5},{"p":"1V","s":"Ions","f":770,"d":-123.0},{"p":"1V","s":"Ions","f":782,"d":-127.5},{"p":"1V","s":"Ions","f":794,"d":-122.5},{"p":"1V","s":"Ions","f":805,"d":-128.0},{"p":"1V","s":"Ions","f":812,"d":-118.0},{"p":"1V","s":"Ions","f":819,"d":-135.4},{"p":"1V","s":"Ions","f":826,"d":-122.5},{"p":"1V","s":"Ions","f":838,"d":-129.0},{"p":"1V","s":"Ions","f":851,"d":-123.5},{"p":"1V","s":"Ions","f":862,"d":-129.0},{"p":"1V","s":"Ions","f":874,"d":-127.8},{"p":"1V","s":"Ions","f":897,"d":-133.2},{"p":"1V","s":"Ions","f":914,"d":-137.6},{"p":"1V","s":"Ions","f":932,"d":-140.2},{"p":"1V","s":"Ions","f":978,"d":-140.2},{"p":"1V","s":"Ions","f":1025,"d":-140.2},{"p":"1V","s":"Ions","f":1071,"d":-140.2},{"p":"1V","s":"Ions","f":1117,"d":-139.8},{"p":"1V","s":"Ions","f":1140,"d":-135.4},{"p":"1V","s":"Ions","f":1163,"d":-128.8},{"p":"1V","s":"Ions","f":1187,"d":-125.6},{"p":"1V","s":"Ions","f":1196,"d":-128.5},{"p":"1V","s":"Ions","f":1205,"d":-122.0},{"p":"1V","s":"Ions","f":1214,"d":-135.4},{"p":"1V","s":"Ions","f":1224,"d":-121.5},{"p":"1V","s":"Ions","f":1234,"d":-127.5},{"p":"1V","s":"Ions","f":1244,"d":-121.5},{"p":"1V","s":"Ions","f":1256,"d":-127.0},{"p":"1V","s":"Ions","f":1268,"d":-122.5},{"p":"1V","s":"Ions","f":1280,"d":-129.0},{"p":"1V","s":"Ions","f":1291,"d":-127.5},{"p":"1V","s":"Ions","f":1314,"d":-134.3},{"p":"1V","s":"Ions","f":1337,"d":-139.8},{"p":"1V","s":"Ions","f":1372,"d":-141.9},{"p":"1V","s":"Ions","f":1406,"d":-141.9},{"p":"1V","s":"Ions","f":1429,"d":-139.8},{"p":"1V","s":"Ions","f":1453,"d":-133.2},{"p":"1V","s":"Ions","f":1476,"d":-127.8},{"p":"1V","s":"Ions","f":1488,"d":-122.5},{"p":"1V","s":"Ions","f":1499,"d":-127.5},{"p":"1V","s":"Ions","f":1515,"d":-118.0},{"p":"1V","s":"Ions","f":1524,"d":-89.7},{"p":"1V","s":"Ions","f":1531,"d":-111.4},{"p":"1V","s":"Ions","f":1543,"d":-128.0},{"p":"1V","s":"Ions","f":1555,"d":-123.0},{"p":"1V","s":"Ions","f":1568,"d":-129.5},{"p":"1V","s":"Ions","f":1580,"d":-125.0},{"p":"1V","s":"Ions","f":1591,"d":-131.0},{"p":"1V","s":"Ions","f":1614,"d":-135.4},{"p":"1V","s":"Ions","f":1638,"d":-139.8},{"p":"1V","s":"Ions","f":1661,"d":-141.9},{"p":"1V","s":"Ions","f":1684,"d":-143.0},{"p":"1V","s":"Ions","f":1707,"d":-143.7},
{"p":"2V","s":"Protons","f":0,"d":-131.0},{"p":"2V","s":"Protons","f":7,"d":-141.9},{"p":"2V","s":"Protons","f":14,"d":-124.5},{"p":"2V","s":"Protons","f":21,"d":-144.1},{"p":"2V","s":"Protons","f":35,"d":-147.4},{"p":"2V","s":"Protons","f":81,"d":-147.9},{"p":"2V","s":"Protons","f":116,"d":-147.4},{"p":"2V","s":"Protons","f":139,"d":-144.1},{"p":"2V","s":"Protons","f":162,"d":-139.8},{"p":"2V","s":"Protons","f":178,"d":-133.2},{"p":"2V","s":"Protons","f":190,"d":-122.4},{"p":"2V","s":"Protons","f":197,"d":-100.6},{"p":"2V","s":"Protons","f":204,"d":-118.0},{"p":"2V","s":"Protons","f":213,"d":-131.0},{"p":"2V","s":"Protons","f":224,"d":-133.2},{"p":"2V","s":"Protons","f":243,"d":-135.4},{"p":"2V","s":"Protons","f":266,"d":-138.7},{"p":"2V","s":"Protons","f":289,"d":-141.9},{"p":"2V","s":"Protons","f":312,"d":-143.7},{"p":"2V","s":"Protons","f":347,"d":-144.6},{"p":"2V","s":"Protons","f":382,"d":-144.6},{"p":"2V","s":"Protons","f":409,"d":-143.1},{"p":"2V","s":"Protons","f":433,"d":-135.4},{"p":"2V","s":"Protons","f":456,"d":-131.0},{"p":"2V","s":"Protons","f":474,"d":-127.8},{"p":"2V","s":"Protons","f":488,"d":-115.9},{"p":"2V","s":"Protons","f":497,"d":-94.0},{"p":"2V","s":"Protons","f":504,"d":-71.1},{"p":"2V","s":"Protons","f":511,"d":-94.0},{"p":"2V","s":"Protons","f":518,"d":-122.4},{"p":"2V","s":"Protons","f":532,"d":-131.0},{"p":"2V","s":"Protons","f":555,"d":-135.4},{"p":"2V","s":"Protons","f":578,"d":-139.8},{"p":"2V","s":"Protons","f":601,"d":-143.1},{"p":"2V","s":"Protons","f":636,"d":-144.6},{"p":"2V","s":"Protons","f":671,"d":-144.1},{"p":"2V","s":"Protons","f":701,"d":-139.8},{"p":"2V","s":"Protons","f":724,"d":-135.4},{"p":"2V","s":"Protons","f":747,"d":-131.0},{"p":"2V","s":"Protons","f":766,"d":-126.7},{"p":"2V","s":"Protons","f":777,"d":-111.4},{"p":"2V","s":"Protons","f":784,"d":-91.9},{"p":"2V","s":"Protons","f":791,"d":-111.4},{"p":"2V","s":"Protons","f":800,"d":-128.8},{"p":"2V","s":"Protons","f":821,"d":-133.2},{"p":"2V","s":"Protons","f":844,"d":-136.5},{"p":"2V","s":"Protons","f":867,"d":-139.8},{"p":"2V","s":"Protons","f":891,"d":-143.1},{"p":"2V","s":"Protons","f":937,"d":-144.6},{"p":"2V","s":"Protons","f":983,"d":-144.6},{"p":"2V","s":"Protons","f":1018,"d":-144.6},{"p":"2V","s":"Protons","f":1025,"d":-122.4},{"p":"2V","s":"Protons","f":1032,"d":-144.6},{"p":"2V","s":"Protons","f":1076,"d":-144.6},{"p":"2V","s":"Protons","f":1122,"d":-144.1},{"p":"2V","s":"Protons","f":1145,"d":-141.9},{"p":"2V","s":"Protons","f":1168,"d":-137.6},{"p":"2V","s":"Protons","f":1191,"d":-133.2},{"p":"2V","s":"Protons","f":1210,"d":-122.4},{"p":"2V","s":"Protons","f":1219,"d":-94.0},{"p":"2V","s":"Protons","f":1228,"d":-118.0},{"p":"2V","s":"Protons","f":1242,"d":-133.2},{"p":"2V","s":"Protons","f":1261,"d":-134.3},{"p":"2V","s":"Protons","f":1284,"d":-135.4},{"p":"2V","s":"Protons","f":1307,"d":-138.7},{"p":"2V","s":"Protons","f":1335,"d":-141.9},{"p":"2V","s":"Protons","f":1365,"d":-144.6},{"p":"2V","s":"Protons","f":1399,"d":-145.2},{"p":"2V","s":"Protons","f":1434,"d":-144.1},{"p":"2V","s":"Protons","f":1464,"d":-139.8},{"p":"2V","s":"Protons","f":1492,"d":-133.2},{"p":"2V","s":"Protons","f":1515,"d":-122.4},{"p":"2V","s":"Protons","f":1524,"d":-94.0},{"p":"2V","s":"Protons","f":1531,"d":-71.1},{"p":"2V","s":"Protons","f":1538,"d":-96.2},{"p":"2V","s":"Protons","f":1547,"d":-122.4},{"p":"2V","s":"Protons","f":1561,"d":-131.0},{"p":"2V","s":"Protons","f":1584,"d":-135.4},{"p":"2V","s":"Protons","f":1608,"d":-139.8},{"p":"2V","s":"Protons","f":1631,"d":-144.1},{"p":"2V","s":"Protons","f":1658,"d":-146.3},{"p":"2V","s":"Protons","f":1695,"d":-147.9},
{"p":"2V","s":"Ions","f":0,"d":-144.1},{"p":"2V","s":"Ions","f":7,"d":-124.5},{"p":"2V","s":"Ions","f":14,"d":-141.9},{"p":"2V","s":"Ions","f":23,"d":-145.2},{"p":"2V","s":"Ions","f":35,"d":-147.4},{"p":"2V","s":"Ions","f":81,"d":-147.9},{"p":"2V","s":"Ions","f":116,"d":-146.3},{"p":"2V","s":"Ions","f":132,"d":-141.9},{"p":"2V","s":"Ions","f":150,"d":-135.4},{"p":"2V","s":"Ions","f":169,"d":-131.0},{"p":"2V","s":"Ions","f":185,"d":-126.7},{"p":"2V","s":"Ions","f":197,"d":-124.5},{"p":"2V","s":"Ions","f":206,"d":-141.9},{"p":"2V","s":"Ions","f":213,"d":-123.4},{"p":"2V","s":"Ions","f":222,"d":-127.0},{"p":"2V","s":"Ions","f":231,"d":-121.5},{"p":"2V","s":"Ions","f":242,"d":-126.5},{"p":"2V","s":"Ions","f":254,"d":-121.0},{"p":"2V","s":"Ions","f":266,"d":-127.5},{"p":"2V","s":"Ions","f":278,"d":-122.5},{"p":"2V","s":"Ions","f":286,"d":-126.0},{"p":"2V","s":"Ions","f":294,"d":-127.8},{"p":"2V","s":"Ions","f":308,"d":-133.2},{"p":"2V","s":"Ions","f":324,"d":-139.8},{"p":"2V","s":"Ions","f":340,"d":-143.7},{"p":"2V","s":"Ions","f":359,"d":-144.1},{"p":"2V","s":"Ions","f":377,"d":-141.9},{"p":"2V","s":"Ions","f":393,"d":-133.2},{"p":"2V","s":"Ions","f":409,"d":-126.7},{"p":"2V","s":"Ions","f":428,"d":-123.4},{"p":"2V","s":"Ions","f":440,"d":-119.5},{"p":"2V","s":"Ions","f":451,"d":-123.5},{"p":"2V","s":"Ions","f":462,"d":-118.0},{"p":"2V","s":"Ions","f":474,"d":-122.5},{"p":"2V","s":"Ions","f":484,"d":-116.5},{"p":"2V","s":"Ions","f":493,"d":-120.0},{"p":"2V","s":"Ions","f":504,"d":-94.0},{"p":"2V","s":"Ions","f":511,"d":-113.6},{"p":"2V","s":"Ions","f":520,"d":-128.8},{"p":"2V","s":"Ions","f":530,"d":-118.5},{"p":"2V","s":"Ions","f":539,"d":-124.5},{"p":"2V","s":"Ions","f":548,"d":-119.0},{"p":"2V","s":"Ions","f":558,"d":-125.0},{"p":"2V","s":"Ions","f":567,"d":-120.5},{"p":"2V","s":"Ions","f":576,"d":-127.0},{"p":"2V","s":"Ions","f":585,"d":-126.7},{"p":"2V","s":"Ions","f":601,"d":-133.2},{"p":"2V","s":"Ions","f":618,"d":-139.8},{"p":"2V","s":"Ions","f":636,"d":-144.1},{"p":"2V","s":"Ions","f":659,"d":-145.2},{"p":"2V","s":"Ions","f":682,"d":-141.9},{"p":"2V","s":"Ions","f":701,"d":-133.2},{"p":"2V","s":"Ions","f":719,"d":-126.7},{"p":"2V","s":"Ions","f":730,"d":-121.0},{"p":"2V","s":"Ions","f":740,"d":-125.5},{"p":"2V","s":"Ions","f":751,"d":-119.0},{"p":"2V","s":"Ions","f":763,"d":-124.0},{"p":"2V","s":"Ions","f":770,"d":-119.5},{"p":"2V","s":"Ions","f":779,"d":-111.4},{"p":"2V","s":"Ions","f":786,"d":-102.7},{"p":"2V","s":"Ions","f":793,"d":-133.2},{"p":"2V","s":"Ions","f":800,"d":-119.0},{"p":"2V","s":"Ions","f":810,"d":-125.0},{"p":"2V","s":"Ions","f":821,"d":-119.5},{"p":"2V","s":"Ions","f":830,"d":-124.5},{"p":"2V","s":"Ions","f":840,"d":-121.5},{"p":"2V","s":"Ions","f":848,"d":-127.0},{"p":"2V","s":"Ions","f":856,"d":-128.8},{"p":"2V","s":"Ions","f":872,"d":-135.4},{"p":"2V","s":"Ions","f":891,"d":-141.9},{"p":"2V","s":"Ions","f":914,"d":-144.6},{"p":"2V","s":"Ions","f":960,"d":-145.2},{"p":"2V","s":"Ions","f":1006,"d":-145.2},{"p":"2V","s":"Ions","f":1052,"d":-145.2},{"p":"2V","s":"Ions","f":1099,"d":-145.2},{"p":"2V","s":"Ions","f":1122,"d":-143.1},{"p":"2V","s":"Ions","f":1140,"d":-135.4},{"p":"2V","s":"Ions","f":1157,"d":-126.7},{"p":"2V","s":"Ions","f":1169,"d":-125.0},{"p":"2V","s":"Ions","f":1180,"d":-120.5},{"p":"2V","s":"Ions","f":1189,"d":-124.5},{"p":"2V","s":"Ions","f":1198,"d":-118.5},{"p":"2V","s":"Ions","f":1206,"d":-123.5},{"p":"2V","s":"Ions","f":1214,"d":-117.0},{"p":"2V","s":"Ions","f":1221,"d":-109.3},{"p":"2V","s":"Ions","f":1228,"d":-133.2},{"p":"2V","s":"Ions","f":1237,"d":-118.0},{"p":"2V","s":"Ions","f":1249,"d":-123.0},{"p":"2V","s":"Ions","f":1261,"d":-118.0},{"p":"2V","s":"Ions","f":1272,"d":-123.5},{"p":"2V","s":"Ions","f":1284,"d":-119.0},{"p":"2V","s":"Ions","f":1293,"d":-124.5},{"p":"2V","s":"Ions","f":1302,"d":-124.5},{"p":"2V","s":"Ions","f":1318,"d":-131.0},{"p":"2V","s":"Ions","f":1335,"d":-138.7},{"p":"2V","s":"Ions","f":1353,"d":-143.7},{"p":"2V","s":"Ions","f":1376,"d":-145.2},{"p":"2V","s":"Ions","f":1399,"d":-144.1},{"p":"2V","s":"Ions","f":1418,"d":-137.6},{"p":"2V","s":"Ions","f":1436,"d":-128.8},{"p":"2V","s":"Ions","f":1457,"d":-123.4},{"p":"2V","s":"Ions","f":1468,"d":-125.5},{"p":"2V","s":"Ions","f":1480,"d":-119.5},{"p":"2V","s":"Ions","f":1491,"d":-124.5},{"p":"2V","s":"Ions","f":1503,"d":-118.5},{"p":"2V","s":"Ions","f":1510,"d":-123.5},{"p":"2V","s":"Ions","f":1520,"d":-113.6},{"p":"2V","s":"Ions","f":1529,"d":-83.1},{"p":"2V","s":"Ions","f":1536,"d":-104.9},{"p":"2V","s":"Ions","f":1545,"d":-122.4},{"p":"2V","s":"Ions","f":1555,"d":-119.0},{"p":"2V","s":"Ions","f":1566,"d":-124.5},{"p":"2V","s":"Ions","f":1577,"d":-120.5},{"p":"2V","s":"Ions","f":1589,"d":-126.0},{"p":"2V","s":"Ions","f":1598,"d":-123.0},{"p":"2V","s":"Ions","f":1608,"d":-128.8},{"p":"2V","s":"Ions","f":1626,"d":-135.4},{"p":"2V","s":"Ions","f":1642,"d":-140.9},{"p":"2V","s":"Ions","f":1658,"d":-145.2},{"p":"2V","s":"Ions","f":1677,"d":-146.8},{"p":"2V","s":"Ions","f":1695,"d":-146.3},
{"p":"1H","role":"beam","text":"Beam 1","f":262,"d":-57},
{"p":"2H","role":"beam","text":"Beam 2","f":278,"d":-55.4},
{"p":"1H","role":"rev","text":"Revolution frequency in LHC","f":1017,"d":-66.3},
{"p":"1H","role":"band","text":"Schottky bands","f":1036,"d":-86},
{"p":"2H","role":"plane","text":"Horizontal","f":1405,"d":-57.6},
{"p":"2V","role":"plane","text":"Vertical","f":1463,"d":-55.9},
{"p":"1H","role":"arrow","id":"a1","o":1,"f":874,"d":-93.1},{"p":"1H","role":"arrow","id":"a1","o":2,"f":854,"d":-108.8},
{"p":"1H","role":"arrow","id":"a1h","o":1,"f":835,"d":-104.6},{"p":"1H","role":"arrow","id":"a1h","o":2,"f":854,"d":-108.8},{"p":"1H","role":"arrow","id":"a1h","o":3,"f":883,"d":-105.2},
{"p":"1H","role":"arrow","id":"a2","o":1,"f":1199,"d":-93.1},{"p":"1H","role":"arrow","id":"a2","o":2,"f":1233,"d":-108.8},
{"p":"1H","role":"arrow","id":"a2h","o":1,"f":1205,"d":-104.9},{"p":"1H","role":"arrow","id":"a2h","o":2,"f":1233,"d":-108.8},{"p":"1H","role":"arrow","id":"a2h","o":3,"f":1256,"d":-104.9},
{"p":"1H","role":"arrow","id":"r","o":1,"f":497,"d":-70.1},{"p":"1H","role":"arrow","id":"r","o":2,"f":1552,"d":-70.1},
{"p":"1H","role":"arrow","id":"rl","o":1,"f":546,"d":-67.8},{"p":"1H","role":"arrow","id":"rl","o":2,"f":497,"d":-70.1},{"p":"1H","role":"arrow","id":"rl","o":3,"f":546,"d":-72.4},
{"p":"1H","role":"arrow","id":"rr","o":1,"f":1503,"d":-67.8},{"p":"1H","role":"arrow","id":"rr","o":2,"f":1552,"d":-70.1},{"p":"1H","role":"arrow","id":"rr","o":3,"f":1503,"d":-72.4}
]},
"facet": {"field": "p", "type": "nominal", "sort": ["1H", "2H", "1V", "2V"],
  "header": {"title": null, "labelFontSize": 4, "labelFont": "Liberation Serif", "labelColor": "#333", "labelPadding": -2,
    "labelExpr": "datum.value == '1H' ? 'Beam1H Slot 930 VS Beam1H Slot40' : datum.value == '2H' ? 'Beam2H Slot0' : datum.value == '1V' ? 'Beam1V Slot 930 VS Beam1V Slot40' : 'Beam2V Slot 650 VS Beam2V Slot40'"}},
"columns": 2,
"spacing": {"row": 24, "column": 46},
"resolve": {"axis": {"x": "independent", "y": "independent"}},
"spec": {
  "width": 246, "height": 156,
  "encoding": {
    "x": {"field": "f", "type": "quantitative", "scale": {"domain": [0, 1708], "nice": false, "zero": false},
      "axis": {"values": [0,100,200,300,400,500,600,700,800,900,1000,1100,1200,1300,1400,1500,1600,1700], "labelExpr": "datum.value % 500 == 0 ? datum.label : ''", "format": "d", "labelFontSize": 4, "labelFont": "Liberation Serif", "labelColor": "#444", "labelPadding": 1, "tickSize": 2, "grid": false, "domainColor": "#888", "tickColor": "#888", "title": "Hz", "titleFontSize": 4, "titleFont": "Liberation Serif", "titleFontWeight": "normal", "titleColor": "#444", "titleX": 250, "titleY": 0, "titleAlign": "left", "titleBaseline": "middle"}},
    "y": {"field": "d", "type": "quantitative", "scale": {"domain": [-149, -47], "nice": false, "zero": false},
      "axis": {"values": [-145,-140,-135,-130,-125,-120,-115,-110,-105,-100,-95,-90,-85,-80,-75,-70,-65,-60,-55,-50], "labelExpr": "datum.value % 20 == 0 ? datum.label : ''", "format": "d", "labelFontSize": 4, "labelFont": "Liberation Serif", "labelColor": "#444", "labelPadding": 5, "tickSize": 2, "grid": false, "domainColor": "#888", "tickColor": "#888", "title": "dBm", "titleFontSize": 4, "titleFont": "Liberation Serif", "titleFontWeight": "normal", "titleColor": "#444", "titleAngle": 0, "titleX": -2, "titleY": -3, "titleAlign": "center", "titleBaseline": "bottom"}}
  },
  "layer": [
    {"transform": [{"filter": "isValid(datum.s)"}],
     "mark": {"type": "line", "strokeWidth": 1.2, "opacity": 0.9},
     "encoding": {"color": {"field": "s", "type": "nominal", "scale": {"domain": ["Protons", "Ions"], "range": ["#3535a3", "#a3306e"]},
        "legend": {"orient": "none", "legendX": 505, "legendY": -75, "title": null, "symbolType": "circle", "symbolSize": 24, "symbolStrokeWidth": 1.5, "symbolFillColor": "#444", "symbolStrokeColor": "#444", "symbolOpacity": 1, "labelFontSize": 22, "labelFont": "Lato", "labelOffset": 2, "rowPadding": 12,
          "labelColor": {"expr": "datum.value === 'Protons' ? '#3c52b4' : '#8b1a1a'"}}}}},
    {"transform": [{"filter": "datum.role == 'arrow'"}],
     "mark": {"type": "line", "color": "#222", "strokeWidth": 1.3},
     "encoding": {"detail": {"field": "id"}, "order": {"field": "o", "type": "quantitative"}}},
    {"transform": [{"filter": "datum.role == 'beam'"}],
     "mark": {"type": "text", "font": "Liberation Sans", "fontSize": 16, "fontWeight": "bold", "color": "#333", "align": "center", "baseline": "middle"},
     "encoding": {"text": {"field": "text"}}},
    {"transform": [{"filter": "datum.role == 'rev'"}],
     "mark": {"type": "text", "font": "Liberation Sans", "fontSize": 10, "color": "#555", "align": "center", "baseline": "middle"},
     "encoding": {"text": {"field": "text"}}},
    {"transform": [{"filter": "datum.role == 'band'"}],
     "mark": {"type": "text", "font": "Liberation Sans", "fontSize": 11, "color": "#555", "align": "center", "baseline": "middle"},
     "encoding": {"text": {"field": "text"}}},
    {"transform": [{"filter": "datum.role == 'plane'"}],
     "mark": {"type": "text", "font": "Lato", "fontSize": 15.5, "color": "#444", "align": "center", "baseline": "middle"},
     "encoding": {"text": {"field": "text"}}}
  ]
},
"config": {"view": {"stroke": null}}
}
